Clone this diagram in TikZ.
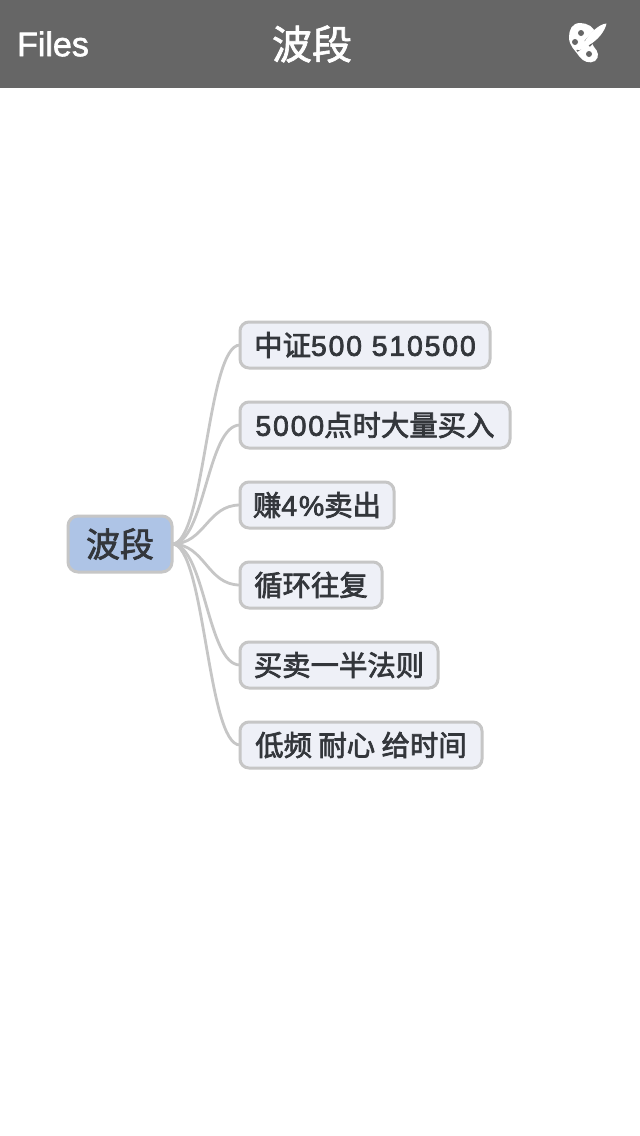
\documentclass[tikz,border=0pt]{standalone}
\usepackage{fontspec}
\setmainfont{Liberation Sans}[LetterSpace=6.5]
\newfontfamily\cjk{Noto Sans CJK SC}
\newfontfamily\plainlat{Liberation Sans}
\usetikzlibrary{calc}
\definecolor{barcol}{HTML}{666666}
\definecolor{linecol}{HTML}{C6C6C6}
\definecolor{kidfill}{HTML}{EEF0F7}
\definecolor{rootfill}{HTML}{AEC4E6}
\definecolor{inkcol}{HTML}{33363B}
\newcommand{\heavy}[2]{\special{pdf:code 2 Tr #1 w}#2\special{pdf:code 0 Tr}}
\tikzset{
  kid/.style={draw=linecol,line width=3pt,fill=kidfill,rounded corners=9pt,outer sep=0pt,inner sep=0pt,minimum height=46pt,text=inkcol,font=\fontsize{28.4}{32}\selectfont},
  rootbox/.style={draw=linecol,line width=3pt,fill=rootfill,rounded corners=10pt,outer sep=0pt,inner sep=0pt,minimum height=56pt,minimum width=104pt,text=inkcol,font=\fontsize{34}{38}\selectfont},
  conn/.style={draw=linecol,line width=2.8pt},
  barlabel/.style={text=white,inner sep=0pt}
}
\newcommand{\link}[1]{\draw[conn] (root.east) .. controls ($(root.east)+(33,0)$) and ($(#1.west)+(-33,0)$) .. (#1.west);}
\begin{document}
\begin{tikzpicture}[x=1pt,y=-1pt]
\useasboundingbox (0,0) rectangle (640,1136);
\fill[white] (0,0) rectangle (640,1136);
\fill[barcol] (0,0) rectangle (640,88);
\node[barlabel,font=\fontsize{34}{38}\selectfont\plainlat] (files) at (53,44) {\heavy{0.6}{Files}};
\node[barlabel,font=\fontsize{40}{44}\selectfont\cjk] (title) at (312,44) {\heavy{0.7}{波段}};
% palette icon
\fill[white] (580,23) .. controls (572,23) and (569,30) .. (569,37) .. controls (569,46) and (575,50) .. (579,56) .. controls (583,62) and (590,64) .. (595,61) .. controls (600,57) and (598,51) .. (594,47) .. controls (591,44) and (593,40) .. (595,34) .. controls (595,27) and (587,23) .. (580,23) -- cycle;
\fill[barcol] (581,33) circle (3);
\fill[barcol] (575,42) circle (3);
\fill[barcol] (589,54) circle (3);
\draw[barcol,line width=8pt] (600,30) -- (587,44);
\draw[barcol,line width=2pt] (585,45) -- (577,51);
\fill[white] (606.5,23.5) .. controls (599,24) and (590,33) .. (585,41) .. controls (582,41) and (580,45) .. (577,50) .. controls (583,50) and (588,48) .. (589,45) .. controls (598,40) and (605,31) .. (606.5,23.5) -- cycle;
\node[rootbox] (root) at (120,544) {\heavy{0.7}{\cjk 波段}};
\node[kid,minimum width=250pt] (k1) at (365,345) {\heavy{0.7}{\cjk 中证\rmfamily 500 510500}};
\node[kid,minimum width=270pt] (k2) at (375,425) {\heavy{0.7}{5000\cjk 点时大量买入}};
\node[kid,minimum width=154pt] (k3) at (317,505) {\heavy{0.7}{\cjk 赚\rmfamily 4\%\cjk 卖出}};
\node[kid,minimum width=142pt] (k4) at (311,585) {\heavy{0.7}{\cjk 循环往复}};
\node[kid,minimum width=198pt] (k5) at (339,665) {\heavy{0.7}{\cjk 买卖一半法则}};
\node[kid,minimum width=242pt] (k6) at (361,745) {\heavy{0.7}{\cjk 低频 耐心 给时间}};
\link{k1}\link{k2}\link{k3}\link{k4}\link{k5}\link{k6}
\end{tikzpicture}
\end{document}
